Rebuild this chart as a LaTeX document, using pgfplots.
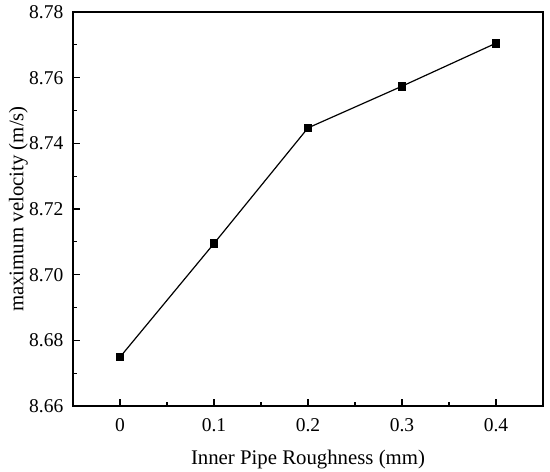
\documentclass[border=0pt]{standalone}
\usepackage{fontspec}
\setmainfont{Liberation Serif}
\usepackage{pgfplots}
\pgfplotsset{compat=1.18}
\begin{document}
\fontsize{19.5bp}{23bp}\selectfont
\begin{tikzpicture}
\begin{axis}[
  scale only axis,
  width=470bp, height=394bp,
  xmin=-0.05, xmax=0.45,
  ymin=8.66, ymax=8.78,
  xtick={0,0.1,0.2,0.3,0.4},
  xticklabels={0,0.1,0.2,0.3,0.4},
  ytick={8.66,8.68,8.70,8.72,8.74,8.76,8.78},
  yticklabels={8.66,8.68,8.70,8.72,8.74,8.76,8.78},
  minor x tick num=1,
  minor y tick num=1,
  tick pos=left,
  tick align=inside,
  major tick length=7bp,
  minor tick length=4bp,
  axis line style={line width=1.2bp},
  every tick/.style={line width=1.1bp, black},
  /pgf/number format/assume math mode=true,
  tick label style={font=\fontsize{19.5bp}{23bp}\selectfont},
  label style={font=\fontsize{20.8bp}{24bp}\selectfont},
  xlabel={Inner Pipe Roughness (mm)},
  ylabel={maximum velocity (m/s)},
  xticklabel style={yshift=-6bp},
  yticklabel style={xshift=-3bp},
  xlabel style={yshift=-5bp},
  ylabel style={yshift=-12bp},
]
\addplot[black, line width=1.2bp, mark=square*, mark size=3.8bp] coordinates {
  (0,8.6749) (0.1,8.7095) (0.2,8.7447) (0.3,8.7574) (0.4,8.7705)
};
\end{axis}
\pgfresetboundingbox
\path ([xshift=-73bp,yshift=-65bp]current axis.south west) rectangle ([xshift=7bp,yshift=12bp]current axis.north east);
\end{tikzpicture}
\end{document}
